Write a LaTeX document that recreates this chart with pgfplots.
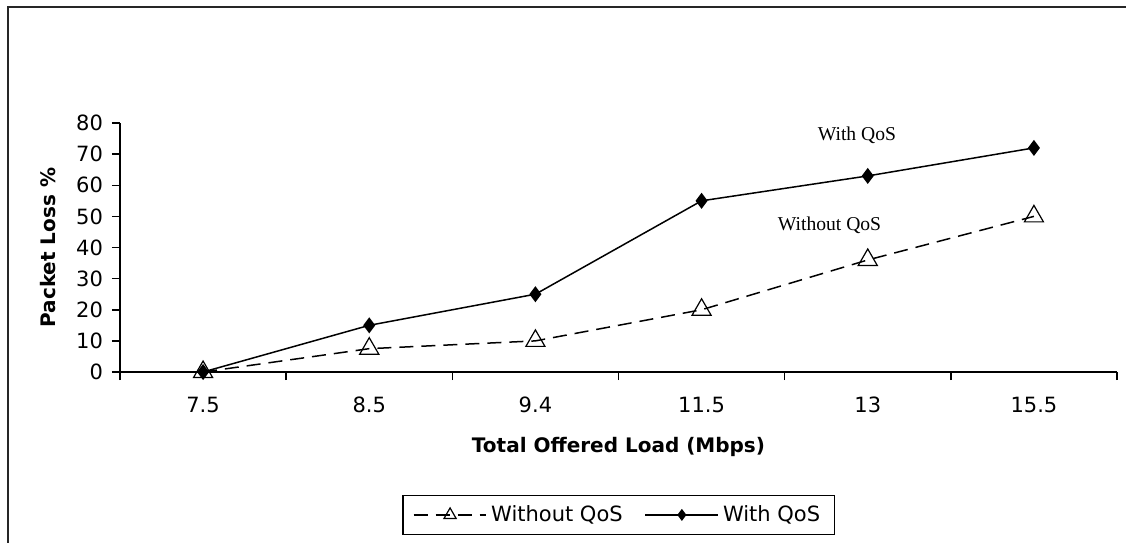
\documentclass[border=0pt]{standalone}
\usepackage{fontspec}
\setmainfont{DejaVu Sans}
\newfontfamily\annfont{Liberation Serif}
\usepackage{pgfplots}
\pgfplotsset{compat=1.18}

\begin{document}
\begin{tikzpicture}
\begin{axis}[
  scale only axis, width=498.5pt, height=124.5pt,
  xmin=-0.5, xmax=5.5, ymin=0, ymax=80,
  xtick={0,1,2,3,4,5},
  xticklabels={7.5,8.5,9.4,11.5,13,15.5},
  minor xtick={-0.5,0.5,1.5,2.5,3.5,4.5,5.5},
  ytick={0,10,...,80},
  axis x line*=bottom, axis y line*=left,
  axis line style={-, black, line width=0.75pt},
  tick align=outside, major tick length=4pt, minor tick length=4pt,
  major x tick style={draw=none},
  minor x tick style={black, line width=0.75pt},
  ytick style={black, line width=0.75pt},
  tick label style={font=\fontsize{10.5}{12}\selectfont},
  /pgf/number format/assume math mode=true,
  xticklabel style={yshift=-5pt},
  yticklabel style={xshift=-1pt},
  xlabel={Total Offered Load (Mbps)},
  ylabel={Packet Loss \%},
  label style={font=\fontsize{10}{12}\selectfont\bfseries},
  xlabel style={at={(rel axis cs:0.5,-0.301)}, anchor=center},
  ylabel style={at={(rel axis cs:-0.0722,0.5)}, anchor=center},
  clip=false,
  legend columns=-1,
  legend style={at={(rel axis cs:0.5,-0.574)}, anchor=center,
    draw=black, line width=0.6pt, font=\fontsize{10.5}{12}\selectfont,
    inner xsep=5pt, inner ysep=3pt,
    /tikz/every even column/.append style={column sep=9pt}},
  legend image code/.code={\draw[#1] plot coordinates {(0cm,0cm) (0.64cm,0cm) (1.28cm,0cm)};},
  legend cell align=left,
]
\addplot[black, line width=0.75pt, dash pattern=on 7pt off 4pt,
  mark=triangle, mark size=5.5pt, mark repeat=1,
  mark options={solid, fill=white, line width=0.6pt},
  legend image post style={mark size=3.5pt, mark repeat=2, mark phase=2}]
  coordinates {(0,0) (1,7.5) (2,10) (3,20) (4,36) (5,50)};
\addlegendentry{Without QoS}
\addplot[black, line width=0.75pt,
  mark=diamond*, mark size=3.4pt,
  mark options={solid, fill=black},
  legend image post style={mark size=2.4pt, mark repeat=2, mark phase=2}]
  coordinates {(0,0) (1,15) (2,25) (3,55) (4,63) (5,72)};
\addlegendentry{With QoS}
\node[font=\annfont\fontsize{9.8}{12}\selectfont] at (axis cs:3.935,76.1) {With QoS};
\node[font=\annfont\fontsize{9.8}{12}\selectfont] at (axis cs:3.77,47.2) {Without QoS};
\coordinate (bbl) at (rel axis cs:-0.12036,-0.68273);
\coordinate (btr) at (rel axis cs:1.00903,1.49398);
\coordinate (fa) at (rel axis cs:-0.11234,1.46586);
\coordinate (fb) at (rel axis cs:1.2,-0.9);
\end{axis}
\draw[black!85, line width=1pt] (fa) rectangle (fb);
\pgfresetboundingbox
\path[use as bounding box] (bbl) rectangle (btr);
\end{tikzpicture}
\end{document}
